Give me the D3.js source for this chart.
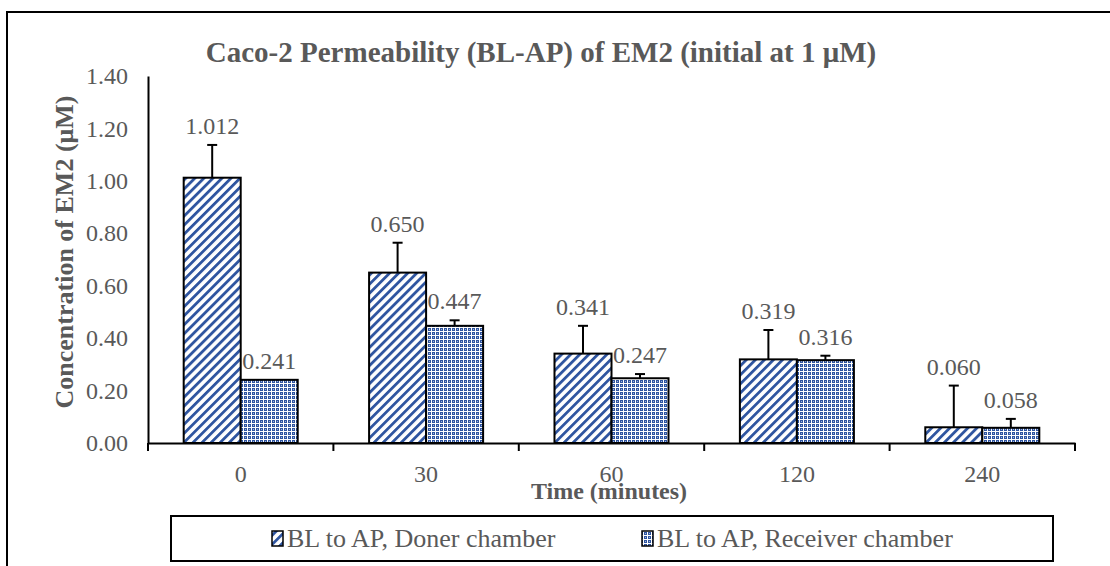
<!DOCTYPE html>
<html><head><meta charset="utf-8">
<script src="https://cdn.jsdelivr.net/npm/d3@7/dist/d3.min.js"></script>
<style>html,body{margin:0;padding:0;background:#fff;}svg{display:block;}</style>
</head><body><svg id="c" width="1110" height="566"></svg>
<script>
const categories = ["0", "30", "60", "120", "240"];
const seriesNames = ["BL to AP, Doner chamber", "BL to AP, Receiver chamber"];
const donerValues = [1.012, 0.650, 0.341, 0.319, 0.060];
const receiverValues = [0.241, 0.447, 0.247, 0.316, 0.058];
const donerErrors = [0.125, 0.114, 0.106, 0.112, 0.159];
const receiverErrors = [0.000, 0.021, 0.016, 0.017, 0.034];
const yTicks = [0, 0.2, 0.4, 0.6, 0.8, 1.0, 1.2, 1.4];
const titleText = "Caco-2 Permeability (BL-AP) of EM2 (initial at 1 μM)";
const xTitle = "Time (minutes)";
const yTitle = "Concentration of EM2 (μM)";

const FONT = "Liberation Serif";
const svg = d3.select("#c");
const blue = "#2F55A0", gray = "#595959";

const defs = svg.append("defs");
const p1 = defs.append("pattern").attr("id","stripe").attr("patternUnits","userSpaceOnUse")
  .attr("width",6.4).attr("height",6.4).attr("patternTransform","rotate(45)");
p1.append("rect").attr("width",6.4).attr("height",6.4).attr("fill","#fff");
p1.append("rect").attr("x",0).attr("width",2.8).attr("height",6.4).attr("fill",blue);
const p2 = defs.append("pattern").attr("id","check").attr("patternUnits","userSpaceOnUse")
  .attr("width",4).attr("height",4);
p2.append("rect").attr("width",4).attr("height",4).attr("fill","#fff");
p2.append("rect").attr("x",0).attr("y",0).attr("width",3).attr("height",3).attr("fill",blue);
p2.append("rect").attr("x",1).attr("y",1).attr("width",1).attr("height",1).attr("fill","#9fb3dc");

svg.append("rect").attr("x",7).attr("y",12).attr("width",1200).attr("height",700)
  .attr("fill","none").attr("stroke","#000").attr("stroke-width",2);

const x0 = 148, x1 = 1075, yBot = 443, yTop = 76;
const x = d3.scaleBand().domain(categories).range([x0,x1]).padding(0);
const y = d3.scaleLinear().domain([0,1.4]).range([yBot,yTop]);
const bw = x.bandwidth()*0.3075;

function txt(sel){ return sel.style("font-family", FONT); }

txt(svg.append("text")).attr("x",541).attr("y",62).attr("text-anchor","middle")
  .attr("font-size",29).attr("font-weight","bold").attr("fill",gray).text(titleText);

const yAxis = svg.append("g").attr("transform",`translate(${x0},0)`)
  .call(d3.axisLeft(y).tickValues(yTicks).tickFormat(d3.format(".2f")).tickSize(0).tickPadding(20));
yAxis.select(".domain").attr("stroke","#000").attr("stroke-width",2);
yAxis.selectAll("text").attr("font-size",24).attr("fill",gray).style("font-family",FONT);

const series = [
  {vals: donerValues, errs: donerErrors, fill: "url(#stripe)", off: -1},
  {vals: receiverValues, errs: receiverErrors, fill: "url(#check)", off: 0}
];
series.forEach(s => {
  const g = svg.append("g");
  categories.forEach((c,i) => {
    const bx = x(c) + x.bandwidth()/2 + s.off*bw;
    const v = s.vals[i], e = s.errs[i];
    g.append("rect").attr("x",bx).attr("y",y(v)).attr("width",bw).attr("height",y(0)-y(v))
      .attr("fill",s.fill).attr("stroke","#000").attr("stroke-width",2);
    const cx = bx + bw/2;
    if (e > 0) {
      g.append("line").attr("x1",cx).attr("x2",cx).attr("y1",y(v)).attr("y2",y(v+e)).attr("stroke","#000").attr("stroke-width",2);
      g.append("line").attr("x1",cx-5).attr("x2",cx+5).attr("y1",y(v+e)).attr("y2",y(v+e)).attr("stroke","#000").attr("stroke-width",2);
    }
    txt(g.append("text")).attr("x",cx).attr("y",y(v+e)-11).attr("text-anchor","middle")
      .attr("font-size",24).attr("fill",gray).text(d3.format(".3f")(v));
  });
});

const xAxis = svg.append("g").attr("transform",`translate(0,${yBot})`)
  .call(d3.axisBottom(x).tickSize(0).tickPadding(22));
xAxis.select(".domain").attr("stroke","#000").attr("stroke-width",2);
xAxis.selectAll("text").attr("font-size",24).attr("fill",gray).style("font-family",FONT);
const bounds = categories.map(c => x(c)).concat([x1]);
xAxis.selectAll(".bt").data(bounds).enter().append("line").attr("class","bt")
  .attr("x1",d=>d).attr("x2",d=>d).attr("y1",0).attr("y2",8).attr("stroke","#000").attr("stroke-width",2);

txt(svg.append("text")).attr("x",609).attr("y",499).attr("text-anchor","middle")
  .attr("font-size",24).attr("font-weight","bold").attr("fill",gray).text(xTitle);
txt(svg.append("text")).attr("transform",`translate(73,252) rotate(-90)`).attr("text-anchor","middle")
  .attr("font-size",26).attr("font-weight","bold").attr("fill",gray).text(yTitle);

svg.append("rect").attr("x",171).attr("y",516).attr("width",882).attr("height",45)
  .attr("fill","#fff").attr("stroke","#000").attr("stroke-width",2);
const legX = [272, 642];
seriesNames.forEach((n,i) => {
  svg.append("rect").attr("x",legX[i]).attr("y",531).attr("width",11).attr("height",15)
    .attr("fill", series[i].fill).attr("stroke","#000").attr("stroke-width",1.5);
  txt(svg.append("text")).attr("x",legX[i]+15).attr("y",547).attr("font-size",26).attr("fill",gray).text(n);
});
</script></body></html>
